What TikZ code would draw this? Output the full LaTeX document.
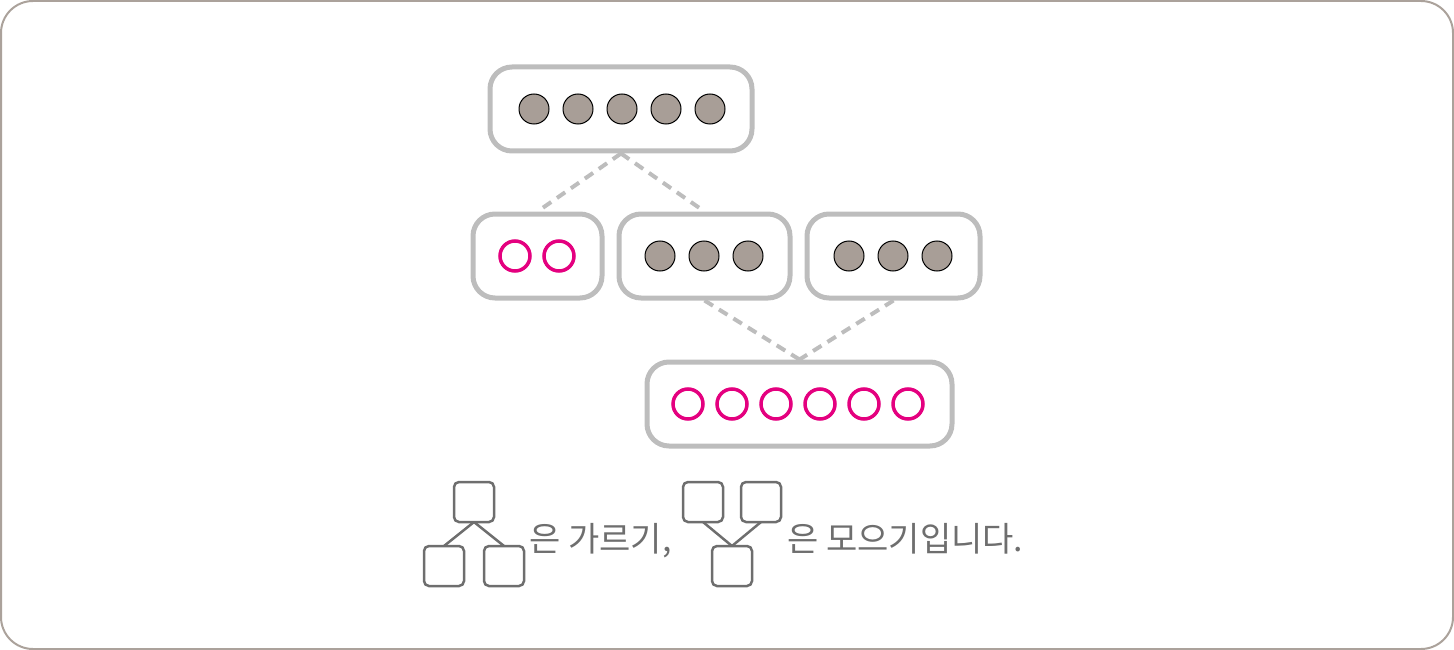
\documentclass[tikz,border=0pt]{standalone}
\usepackage{fontspec}
\setmainfont{Noto Sans CJK KR}
\usepackage{tikz}
\usetikzlibrary{positioning}
\definecolor{framec}{HTML}{ABA29B}
\definecolor{boxc}{HTML}{BDBDBD}
\definecolor{dotc}{HTML}{A89E97}
\definecolor{ringc}{HTML}{E4007F}
\definecolor{tilec}{HTML}{6E6E6E}
\begin{document}
\begin{tikzpicture}[x=1pt,y=-1pt,node distance=14pt,semithick]
  \tikzstyle{box}=[draw=boxc,line width=5pt,rounded corners=22pt,minimum height=84pt,inner sep=0pt]
  \tikzstyle{dot}=[circle,draw=black,line width=1pt,fill=dotc,minimum size=30pt,inner sep=0pt,outer sep=0pt]
  \tikzstyle{ring}=[circle,draw=ringc,line width=3.5pt,minimum size=30pt,inner sep=0pt,outer sep=0pt]
  \tikzstyle{link}=[draw=boxc,line width=4pt,dash pattern=on 10pt off 7pt]
  \tikzstyle{tile}=[draw=tilec,line width=2.5pt,rounded corners=5pt,minimum size=40pt,inner sep=0pt,outer sep=0pt]
  \tikzstyle{stem}=[draw=tilec,line width=2.5pt]
  \tikzstyle{caption}=[anchor=base west,inner sep=0pt,text=tilec,font=\fontsize{34pt}{34pt}\selectfont]
	\useasboundingbox (0,0) rectangle (1454,650);
	\draw[framec,line width=2pt,rounded corners=32pt] (1,1) rectangle (1453,649);
	
	% boxes
	\node[box, minimum width=262pt] (top) at (621,109) {};
	\node[box, minimum width=129pt] (left) at (537.5,256) {};
	\node[box, minimum width=171pt] (mid) at (704.5,256) {};
	\node[box, minimum width=173pt] (right) at (893.5,256) {};
	\node[box, minimum width=305pt] (bottom) at (799.5,404) {};
	
	% top: five
	\node[dot] (t_1) at (534,109) {};
	\node[dot, right=of t_1] (t_2) {};
	\node[dot, right=of t_2] (t_3) {};
	\node[dot, right=of t_3] (t_4) {};
	\node[dot, right=of t_4] (t_5) {};
	
	% split: two and three
	\node[ring] (l_1) at (515,256) {};
	\node[ring, right=of l_1] (l_2) {};
	\node[dot] (m_1) at (660,256) {};
	\node[dot, right=of m_1] (m_2) {};
	\node[dot, right=of m_2] (m_3) {};
	
	% merge: three and three
	\node[dot] (r_1) at (849,256) {};
	\node[dot, right=of r_1] (r_2) {};
	\node[dot, right=of r_2] (r_3) {};
	\node[ring] (b_1) at (688,404) {};
	\node[ring, right=of b_1] (b_2) {};
	\node[ring, right=of b_2] (b_3) {};
	\node[ring, right=of b_3] (b_4) {};
	\node[ring, right=of b_4] (b_5) {};
	\node[ring, right=of b_5] (b_6) {};
	
	\path[link]
	(top.south) -- (left.north)
	(top.south) -- (mid.north)
	(mid.south) -- (bottom.north)
	(right.south) -- (bottom.north);
	
	% legend
	\node[tile] (s_0) at (474,502) {};
	\node[tile] (s_1) at (444,566) {};
	\node[tile] (s_2) at (504,566) {};
	\path[stem] (s_0.south) -- (s_1.north) (s_0.south) -- (s_2.north);
	\node[caption] (split) at (529,551) {은 가르기,};
	\node[tile] (g_1) at (703,502) {};
	\node[tile] (g_2) at (761,502) {};
	\node[tile] (g_0) at (732,566) {};
	\path[stem] (g_1.south) -- (g_0.north) (g_2.south) -- (g_0.north);
	\node[caption] (merge) at (787,551) {은 모으기입니다.};
\end{tikzpicture}
\end{document}
